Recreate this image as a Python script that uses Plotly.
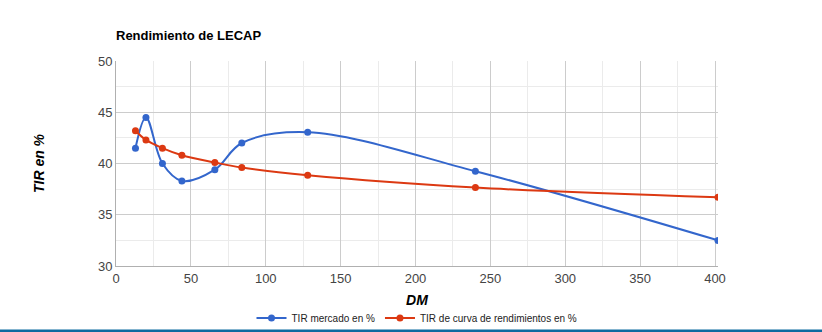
import plotly.graph_objects as go

dm = [13, 20, 31, 44, 66, 84, 128, 240, 402]
tir_mercado = [41.5, 44.5, 40.0, 38.3, 39.4, 42.0, 43.05, 39.25, 32.5]
tir_curva = [43.2, 42.3, 41.5, 40.8, 40.1, 39.6, 38.85, 37.65, 36.7]

W, H = 822, 332
ml, mr, mt, mb = 116, 104, 61, 66

fig = go.Figure()
fig.add_trace(go.Scatter(
    x=dm, y=tir_mercado, name="TIR mercado en %", mode="lines+markers",
    line=dict(color="#3366cc", width=2, shape="spline", smoothing=1.0),
    marker=dict(color="#3366cc", size=7)))
fig.add_trace(go.Scatter(
    x=dm, y=tir_curva, name="TIR de curva de rendimientos en %", mode="lines+markers",
    line=dict(color="#dc3912", width=2, shape="spline", smoothing=1.0),
    marker=dict(color="#dc3912", size=7)))

plot_h = H - mt - mb
fig.add_shape(type="line", xref="paper", yref="paper",
              x0=-ml / (W - ml - mr), x1=(W - ml) / (W - ml - mr),
              y0=-(331 - (H - mb)) / plot_h, y1=-(331 - (H - mb)) / plot_h,
              line=dict(color="#0b6aa0", width=3))

fig.update_layout(
    width=W, height=H,
    margin=dict(l=ml, r=mr, t=mt, b=mb, autoexpand=False),
    paper_bgcolor="white", plot_bgcolor="white",
    font=dict(family="Liberation Sans, Arial, sans-serif", size=13, color="#444"),
    title=dict(text="<b>Rendimiento de LECAP</b>", x=ml / W, xanchor="left",
               xref="container", y=1 - 35 / H, yanchor="middle", yref="container",
               font=dict(size=13, color="#000")),
    legend=dict(orientation="h", x=0.5, xanchor="center", y=-(318 - (H - mb)) / plot_h,
                yanchor="middle", font=dict(size=10, color="#222"),
                itemwidth=30, bgcolor="rgba(0,0,0,0)", tracegroupgap=0),
    showlegend=True,
)
fig.update_xaxes(
    range=[0, 402], tickmode="array", tickvals=[0, 50, 100, 150, 200, 250, 300, 350, 400],
    showgrid=True, gridcolor="#cccccc", gridwidth=1,
    minor=dict(dtick=25, showgrid=True, gridcolor="#ebebeb", gridwidth=1),
    showline=True, linecolor="#b0b0b0", linewidth=1, zeroline=False, automargin=False,
    ticks="", ticklen=0, tickfont=dict(size=13, color="#444"),
    title=dict(text="<b><i>DM</i></b>", font=dict(size=14, color="#000"), standoff=10),
)
fig.update_yaxes(
    range=[30, 50], tickmode="array", tickvals=[30, 35, 40, 45, 50],
    showgrid=True, gridcolor="#cccccc", gridwidth=1,
    minor=dict(dtick=2.5, showgrid=True, gridcolor="#ebebeb", gridwidth=1),
    showline=True, linecolor="#b0b0b0", linewidth=1, zeroline=False, automargin=False,
    ticks="", ticklen=0, tickfont=dict(size=13, color="#444"),
    title=dict(text="<b><i>TIR en %</i></b>", font=dict(size=14, color="#000"), standoff=50),
)

fig.write_html("out.html")
